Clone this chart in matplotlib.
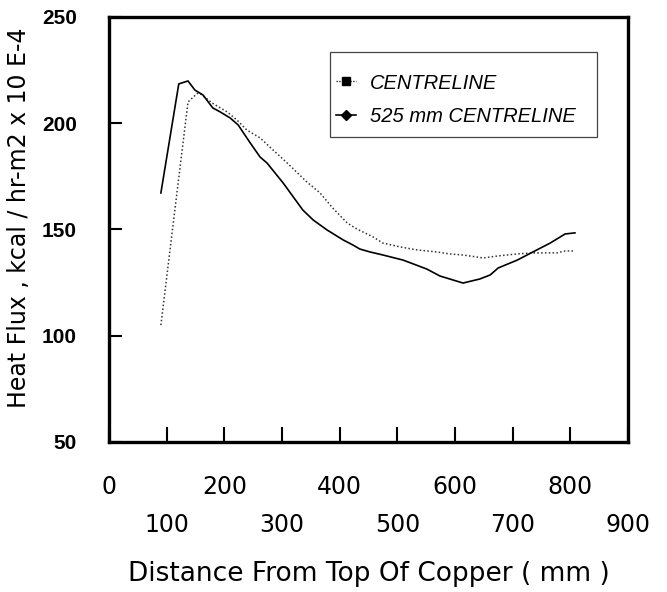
import numpy as np
import matplotlib.pyplot as plt
from matplotlib.lines import Line2D
from matplotlib.patches import Rectangle

# distance from top of copper (mm) and heat flux (kcal / hr-m2 x 10 E-4)
dist_centre = [90, 137, 153, 158, 179, 205, 222, 239, 262, 279, 309, 343, 366,
               388, 413, 430, 458, 475, 505, 534, 569, 591, 614, 649, 673, 708,
               735, 777, 791, 808]
flux_centre = [105, 210, 214, 214, 209.5, 205.3, 201.5, 196.8, 193.1, 188.8,
               181.3, 172.4, 167.2, 160.1, 153.1, 150.2, 146.5, 143.6, 141.8,
               140.4, 139.4, 138.5, 138.0, 136.6, 137.5, 138.5, 139.0, 139.0,
               139.9, 139.9]

dist_525 = [90, 121, 137, 149, 163, 180, 193, 210, 224, 245, 262, 274, 302, 336,
            354, 378, 406, 423, 435, 453, 475, 510, 551, 574, 614, 643, 661,
            675, 708, 725, 765, 791, 808]
flux_525 = [167.2, 218.5, 219.9, 215.6, 213.3, 207.2, 205.3, 202.5, 199.2,
            190.7, 184.1, 181.3, 171.9, 159.2, 154.5, 149.8, 145.1, 142.7,
            140.8, 139.4, 138.0, 135.6, 131.4, 128.1, 124.8, 126.7, 128.6,
            131.9, 135.6, 138.0, 143.6, 147.9, 148.4]

labels = ['CENTRELINE', '525 mm CENTRELINE']
x_ticks = np.arange(0, 1000, 100)
y_ticks = [50, 100, 150, 200, 250]

fig = plt.figure(figsize=(6.67, 5.92), dpi=100)
ax = fig.add_axes([0.1634, 0.2534, 0.7781, 0.7179])

ax.plot(dist_centre, flux_centre, color='#333333', linestyle=(0, (1, 1.5)), linewidth=1.1)
ax.plot(dist_525, flux_525, color='black', linestyle='-', linewidth=1.2)

ax.set_xlim(0, 900)
ax.set_ylim(50, 250)

for s in ax.spines.values():
    s.set_linewidth(2.4)

# staggered x tick labels: even hundreds on the upper row, odd on the lower
ax.set_xticks(x_ticks)
ax.set_xticklabels([str(v) for v in x_ticks], fontsize=17, family='DejaVu Sans')
ax.tick_params(axis='x', direction='in', length=11, width=1.5)
for i, tick in enumerate(ax.xaxis.get_major_ticks()):
    tick.set_pad(24 if i % 2 == 0 else 51)

ax.set_yticks(y_ticks)
ax.set_yticklabels([str(v) for v in y_ticks], fontsize=15, fontweight='bold',
                   family='Liberation Sans')
ax.tick_params(axis='y', direction='in', length=9, width=1.5, pad=23)

ax.set_xlabel('Distance From Top Of Copper ( mm )', fontsize=19, family='DejaVu Sans')
ax.xaxis.label.set_va('center')
ax.xaxis.set_label_coords(0.5, -0.311)
ax.set_ylabel('Heat Flux , kcal / hr-m2 x 10 E-4', fontsize=17, family='DejaVu Sans')
ax.yaxis.set_label_coords(-0.150, 0.527)

# legend box
ax.add_patch(Rectangle((0.426, 0.718), 0.514, 0.2, transform=ax.transAxes,
                       fill=False, edgecolor='#444444', linewidth=0.9, zorder=4))
handles = [
    Line2D([], [], color='#333333', linestyle=(0, (1, 1)), linewidth=1.0,
           marker='s', markersize=6, markerfacecolor='black', markeredgecolor='black'),
    Line2D([], [], color='black', linestyle='-', linewidth=1.2,
           marker='D', markersize=5, markerfacecolor='black', markeredgecolor='black'),
]
leg = ax.legend(handles, labels, loc='upper left', bbox_to_anchor=(0.437, 0.867),
                prop={'family': 'Liberation Sans', 'style': 'italic', 'size': 14.5},
                frameon=False, handlelength=1.0, handletextpad=0.7,
                labelspacing=0.7, borderpad=0, borderaxespad=0)

fig.savefig('out.png', dpi=100)
